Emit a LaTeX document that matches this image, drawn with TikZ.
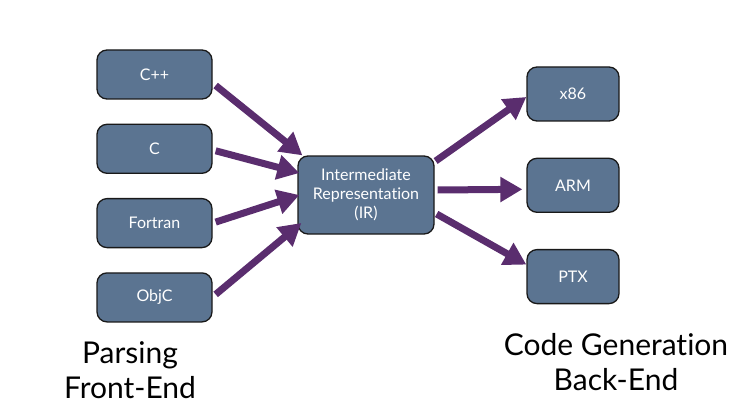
\documentclass[tikz,border=0pt]{standalone}
\usepackage{fontspec}
\setmainfont{Lato}[Ligatures={NoCommon,NoRare}]
\usetikzlibrary{positioning,arrows.meta}
\definecolor{slate}{HTML}{5B7491}
\definecolor{plum}{HTML}{5A2D6E}

\begin{document}
\begin{tikzpicture}[x=1pt,y=-1pt,
  lang/.style={draw=black!90, line width=1.3pt, fill=slate, rounded corners=10pt,
    text=white, font=\fontsize{16}{19}\selectfont, align=center,
    minimum width=115pt, minimum height=49pt, inner sep=0pt},
  target/.style={lang, minimum width=92pt, minimum height=54pt},
  flow/.style={plum, line width=7pt, -{Triangle[length=22pt,width=24pt]}},
  caption/.style={font=\fontsize{30}{35}\selectfont, align=center}]
 \useasboundingbox (0,0) rectangle (752,417);
 \node[lang] (cpp) at (154.5,74.5) {C++};
 \node[lang, below=24pt of cpp] (c) {C};
 \node[lang, below=24pt of c] (fortran) {Fortran};
 \node[lang, below=24pt of fortran] (objc) {ObjC};
 \node[lang, minimum width=136pt, minimum height=78pt] (ir) at (366,195)
   {Intermediate\\Representation\\(IR)};
 \node[target] (x86) at (573,94) {x86};
 \node[target, below=36pt of x86] (arm) {ARM};
 \node[target, below=36pt of arm] (ptx) {PTX};
 \node[caption] (front) at (130,370) {Parsing\\Front-End};
 \node[caption] (back) at (616,362) {Code Generation\\Back-End};
 \draw[flow] ([shift={(3,11)}]cpp.east) -- ([shift={(5,0)}]ir.north west);
 \draw[flow] ([shift={(3,2)}]c.east) -- ([shift={(2,-22)}]ir.west);
 \draw[flow] ([shift={(3,-1)}]fortran.east) -- ([shift={(2,0)}]ir.west);
 \draw[flow] ([shift={(3,-3)}]objc.east) -- ([shift={(4,28)}]ir.west);
 \draw[flow] ([shift={(1,-34)}]ir.east) -- ([shift={(0,3)}]x86.west);
 \draw[flow] ([shift={(3,-5)}]ir.east) -- ([shift={(-4,4)}]arm.west);
 \draw[flow] ([shift={(2,19)}]ir.east) -- ([shift={(0,-12)}]ptx.west);
\end{tikzpicture}
\end{document}
